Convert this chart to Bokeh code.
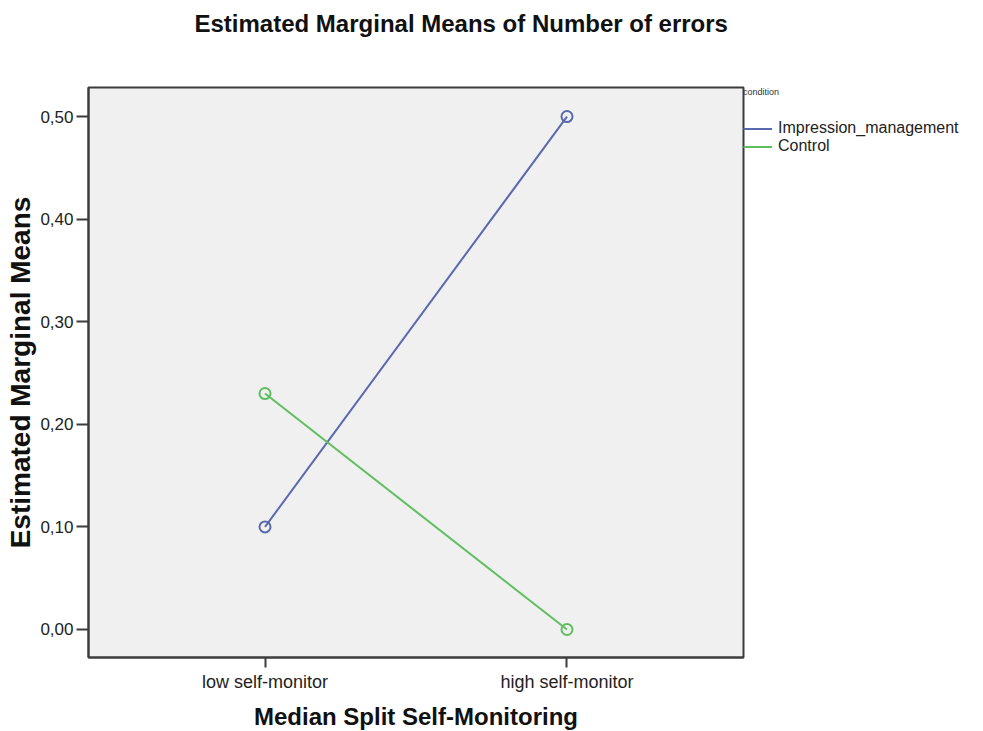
from bokeh.plotting import figure
from bokeh.models import (FactorRange, Range1d, FixedTicker, Legend, LegendItem,
                          Title, CategoricalAxis)
from bokeh.embed import file_html
from bokeh.resources import INLINE

categories = ["low self-monitor", "high self-monitor"]
impression_management = [0.10, 0.50]
control = [0.23, 0.00]
y_ticks = [0.0, 0.1, 0.2, 0.3, 0.4, 0.5]
y_tick_labels = ["0,00", "0,10", "0,20", "0,30", "0,40", "0,50"]
series_names = ["Impression_management", "Control"]
legend_title = "condition"

FONT = "Liberation Sans"
BLUE = "#5a68ad"
GREEN = "#5fbf5f"
FRAME = "#3c3c3c"

p = figure(frame_width=655, frame_height=570, output_backend="svg",
           toolbar_location=None,
           x_range=FactorRange(factors=categories, range_padding=0.0845),
           y_range=Range1d(-0.0273, 0.5283))
p.min_border_left = 88
p.min_border_right = 240
p.min_border_top = 87
p.min_border_bottom = 71
p.background_fill_color = "#f0f0f0"
p.border_fill_color = "white"
p.outline_line_color = FRAME
p.outline_line_width = 2
p.xgrid.visible = False
p.ygrid.visible = False

# invisible spacer band between the frame and the title
spacer = CategoricalAxis(major_tick_out=49, major_tick_in=0,
                         major_tick_line_color=None, minor_tick_line_color=None,
                         axis_line_color=None, major_label_standoff=0,
                         major_label_text_font_size="0px",
                         major_label_overrides={c: "" for c in categories})
p.add_layout(spacer, "above")

p.title = Title(text="Estimated Marginal Means of Number of errors",
                text_font=FONT, text_font_size="24px", text_font_style="bold",
                text_color="#111111", align="left", offset=106, standoff=4)

# axes
for ax in (p.below[0], p.left[0]):
    ax.axis_line_color = FRAME
    ax.axis_line_width = 2
    ax.major_tick_line_color = FRAME
    ax.major_tick_line_width = 2
    ax.major_tick_in = 0
    ax.minor_tick_line_color = None
    ax.major_label_text_font = FONT
    ax.major_label_text_color = "#222222"
    ax.axis_label_text_font = FONT
    ax.axis_label_text_font_style = "bold"
    ax.axis_label_text_color = "#111111"

ya = p.left[0]
ya.ticker = FixedTicker(ticks=y_ticks)
ya.major_label_overrides = {t: l for t, l in zip(y_ticks, y_tick_labels)}
ya.major_tick_out = 12
ya.major_label_standoff = 3
ya.major_label_text_font_size = "17px"
ya.axis_label = "Estimated Marginal Means"
ya.axis_label_text_font_size = "28px"
ya.axis_label_standoff = 1

xa = p.below[0]
xa.major_tick_out = 10
xa.major_label_standoff = 4
xa.major_label_text_font_size = "18px"
xa.axis_label = "Median Split Self-Monitoring"
xa.axis_label_text_font_size = "24px"
xa.axis_label_standoff = 8

r1 = p.line(categories, impression_management, line_color=BLUE, line_width=2)
p.scatter(categories, impression_management, marker="circle", size=11,
          fill_color=None, line_color=BLUE, line_width=2)
r2 = p.line(categories, control, line_color=GREEN, line_width=2)
p.scatter(categories, control, marker="circle", size=11,
          fill_color=None, line_color=GREEN, line_width=2)

legend = Legend(items=[LegendItem(label=series_names[0], renderers=[r1]),
                       LegendItem(label=series_names[1], renderers=[r2])],
                location="top_left", margin=0, padding=14, spacing=0,
                glyph_width=29, glyph_height=15, label_height=15,
                label_standoff=6, label_text_font=FONT,
                label_text_font_size="16px", label_text_line_height=0.8,
                label_text_color="#222222",
                title=legend_title, title_text_font=FONT,
                title_text_font_size="9px", title_text_color="#333333",
                title_text_font_style="normal", title_standoff=22,
                border_line_color=None, background_fill_alpha=0)
p.add_layout(legend, "right")

open("out.html", "w").write(file_html(p, INLINE))
